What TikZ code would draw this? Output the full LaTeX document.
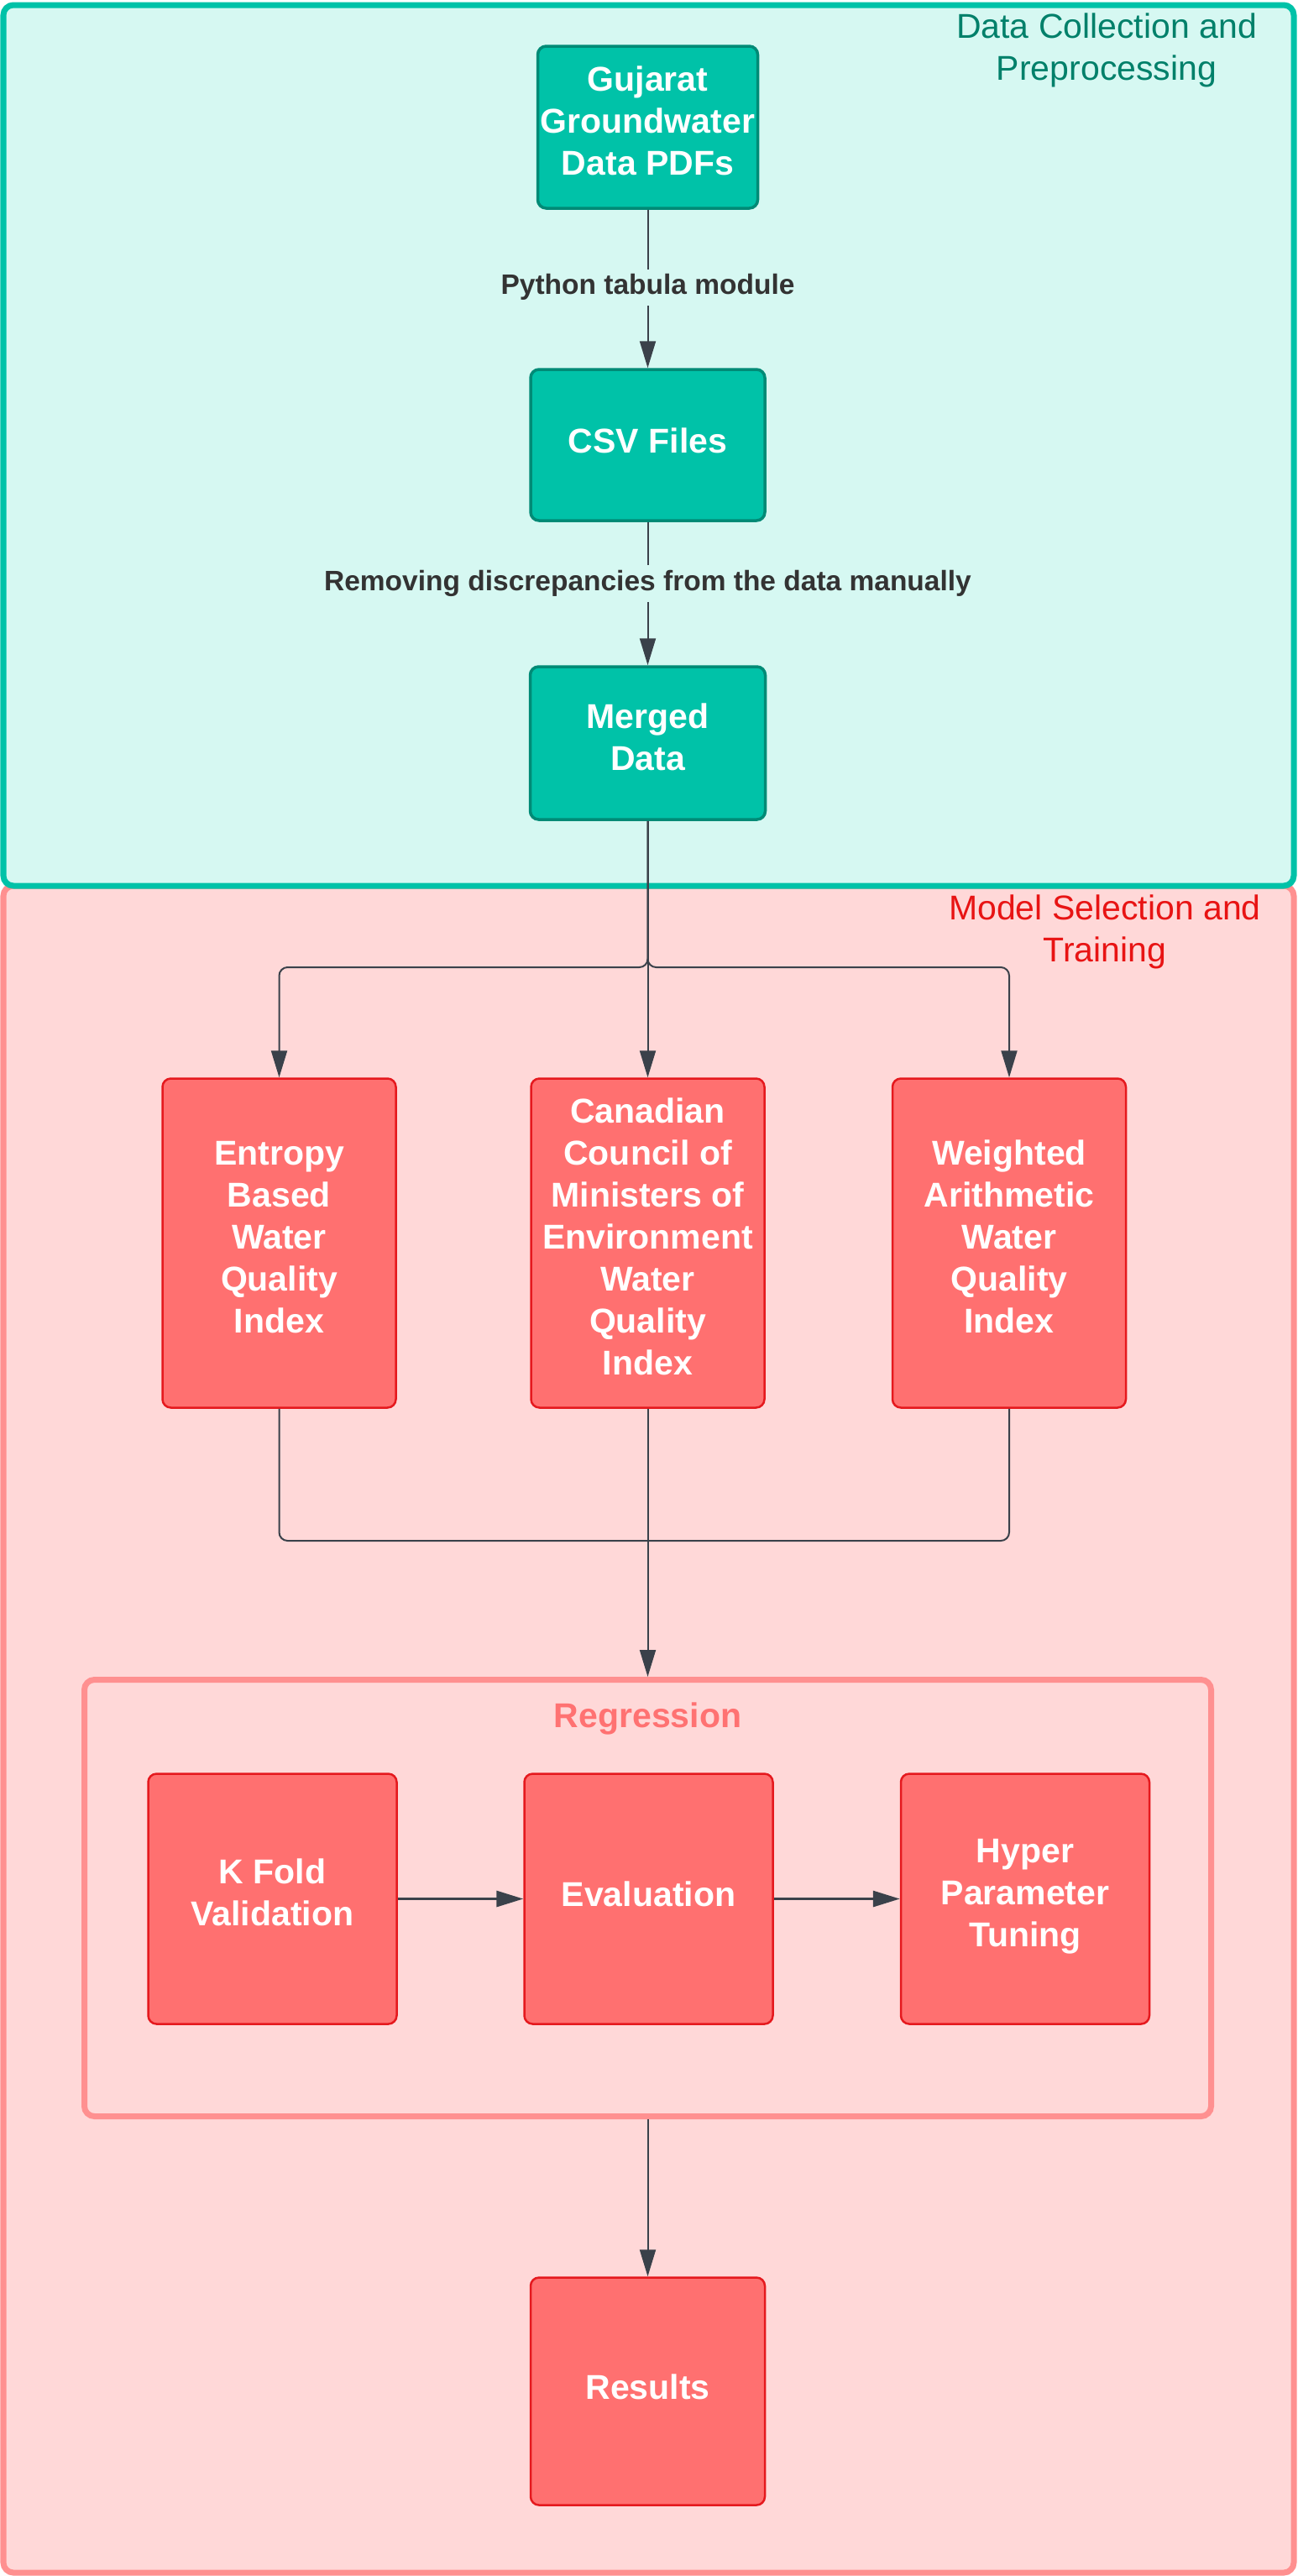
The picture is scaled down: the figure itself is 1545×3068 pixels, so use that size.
\documentclass[tikz,border=0pt]{standalone}
\usepackage{fontspec}
\setmainfont{Liberation Sans}
\usetikzlibrary{arrows.meta}
\definecolor{mint}{HTML}{D6F8F2}
\definecolor{teal1}{HTML}{00C2A8}
\definecolor{tealdark}{HTML}{008A76}
\definecolor{tealtitle}{HTML}{00806A}
\definecolor{pinkbg}{HTML}{FFD8D8}
\definecolor{pinkborder}{HTML}{FF9090}
\definecolor{redbox}{HTML}{FF7070}
\definecolor{redborder}{HTML}{E5191E}
\definecolor{redtitle}{HTML}{E81414}
\definecolor{regtitle}{HTML}{FF7272}
\definecolor{linec}{HTML}{3A414A}
\definecolor{labelc}{HTML}{333333}
\newcommand\boxstrut{\rule[-15pt]{0pt}{48pt}}
\begin{document}
\begin{tikzpicture}[x=1pt,y=-1pt,
  container/.style={line width=7pt, rounded corners=12pt},
  boxtext/.style={text=white, align=center, inner sep=0pt,
    font=\bfseries\fontsize{41}{50}\selectfont,
    execute at begin node=\boxstrut, execute at end node=\boxstrut},
  tealbox/.style={boxtext, draw=tealdark, fill=teal1, line width=3.5pt, rounded corners=10pt},
  redbox/.style={boxtext, draw=redborder, fill=redbox, line width=2.5pt, rounded corners=10pt},
  conn/.style={draw=linec, line width=2pt, -{Triangle[length=32pt,width=19pt]}},
  plainline/.style={draw=linec, line width=2pt},
  elabel/.style={fill=mint, text=labelc, inner sep=6pt, font=\bfseries\fontsize{33.5}{40}\selectfont},
  grouptitle/.style={align=center, inner sep=0pt, font=\fontsize{41}{50}\selectfont}
]
\useasboundingbox (0,0) rectangle (1545,3068);
% containers
\draw[container, draw=pinkborder, fill=pinkbg] (4,1055) rectangle (1541,3064);
\draw[container, draw=teal1, fill=mint] (4,6) rectangle (1541,1055);
\node[grouptitle, text=tealtitle, anchor=north] (t1) at (1318,16) {Data Collection and\\Preprocessing};
\node[grouptitle, text=redtitle, anchor=north] (t2) at (1316,1066) {Model Selection and\\Training};
% regression group
\node[draw=pinkborder, fill=pinkbg, line width=7pt, rounded corners=12pt,
  minimum width=1342pt, minimum height=520pt, inner sep=0pt] (reg) at (771.5,2260.5) {};
\node[text=regtitle, font=\bfseries\fontsize{41}{50}\selectfont, anchor=base, inner sep=0pt] (regt) at (771.5,2057) {Regression};
% nodes
\node[tealbox, minimum width=262pt, minimum height=193pt] (guj) at (771.5,151.5) {Gujarat\\Groundwater\\Data PDFs};
\node[tealbox, minimum width=279pt, minimum height=180pt] (csv) at (771.5,530) {CSV Files};
\node[tealbox, minimum width=280pt, minimum height=182pt] (merged) at (771.5,885) {Merged\\Data};
\node[redbox, minimum width=278pt, minimum height=392pt] (idx1) at (332.5,1480.5) {Entropy\\Based\\Water\\Quality\\Index};
\node[redbox, minimum width=278pt, minimum height=392pt] (idx2) at (771.5,1480.5) {Canadian\\Council of\\Ministers of\\Environment\\Water\\Quality\\Index};
\node[redbox, minimum width=278pt, minimum height=392pt] (idx3) at (1202,1480.5) {Weighted\\Arithmetic\\Water\\Quality\\Index};
\node[redbox, minimum width=296pt, minimum height=298pt] (kfold) at (324.5,2261.5) {K Fold\\Validation};
\node[redbox, minimum width=296pt, minimum height=298pt] (eval) at (772.5,2261.5) {Evaluation};
\node[redbox, minimum width=296pt, minimum height=298pt] (hyper) at (1221,2261.5) {Hyper\\Parameter\\Tuning};
\node[redbox, minimum width=279pt, minimum height=271pt] (res) at (771.5,2848) {Results};
% connectors
\coordinate (split) at (771.5,1152);
\coordinate (join) at (771.5,1835);
\draw[conn] (guj) -- node[elabel, pos=0.49] (l1) {Python tabula module} (csv);
\draw[conn] (csv) -- node[elabel, pos=0.43] (l2) {Removing discrepancies from the data manually} (merged);
\draw[conn, rounded corners=10pt] (merged.south) -- (split) -| (idx1.north);
\draw[conn, rounded corners=10pt] (merged.south) -- (split) -| (idx3.north);
\draw[conn] (merged.south) -- (idx2.north);
\draw[plainline, rounded corners=10pt] (idx1.south) |- (join);
\draw[plainline, rounded corners=10pt] (idx3.south) |- (join);
\draw[conn] (idx2.south) -- (reg.north);
\draw[conn, line width=3pt] (kfold) -- (eval);
\draw[conn, line width=3pt] (eval) -- (hyper);
\draw[conn] (reg.south) -- (res.north);
\end{tikzpicture}
\end{document}
